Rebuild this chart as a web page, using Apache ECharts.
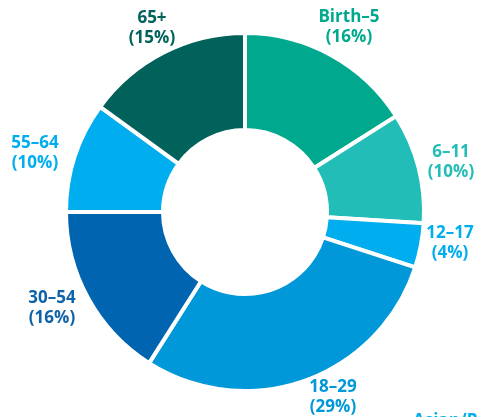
<!DOCTYPE html>
<html>
<head>
<meta charset="utf-8">
<script src="https://cdn.jsdelivr.net/npm/echarts@6/dist/echarts.min.js"></script>
<style>
  html, body { margin: 0; padding: 0; background: #fff; }
  #chart { width: 477px; height: 417px; }
</style>
</head>
<body>
<div id="chart"></div>
<script>
const ageGroups = ['Birth–5', '6–11', '12–17', '18–29', '30–54', '55–64', '65+']
const shares = [16, 10, 4, 29, 16, 10, 15]
const sliceColors = ['#00a98e', '#22bdb7', '#00adef', '#0098d8', '#0064b0', '#00adef', '#00625a']
const labelColors = ['#00a98e', '#22bdb7', '#00adef', '#0098d8', '#0f62a8', '#00adef', '#00625a']
const labelSpots = [[349, 27], [451, 162], [450, 243], [333, 397], [52, 308], [35, 153], [152, 28]]

const chart = echarts.init(document.getElementById('chart'), null, { renderer: 'canvas' })

chart.setOption({
  animation: false,
  series: [
    {
      type: 'pie',
      center: [245, 212],
      radius: [82, 179],
      startAngle: 90,
      clockwise: true,
      itemStyle: {
        borderColor: '#fff',
        borderWidth: 4
      },
      label: {
        show: true,
        position: 'inside',
        fontFamily: 'Open Sans',
        fontWeight: 'bold',
        fontSize: 17,
        lineHeight: 20,
        align: 'center',
        overflow: 'none',
        formatter: p => p.name + '\n(' + p.value + '%)'
      },
      labelLine: { show: false },
      labelLayout: params => {
        const spot = labelSpots[params.dataIndex]
        return { x: spot[0], y: spot[1], align: 'center', verticalAlign: 'middle', hideOverlap: false }
      },
      data: ageGroups.map((name, i) => ({
        name: name,
        value: shares[i],
        itemStyle: { color: sliceColors[i] },
        label: { color: labelColors[i] }
      }))
    }
  ],
  graphic: [
    {
      type: 'text',
      left: 413,
      top: 413,
      style: {
        text: 'Asian/Pacific',
        fill: '#00adef',
        font: 'bold 17px "Open Sans"'
      }
    }
  ]
})
</script>
</body>
</html>
